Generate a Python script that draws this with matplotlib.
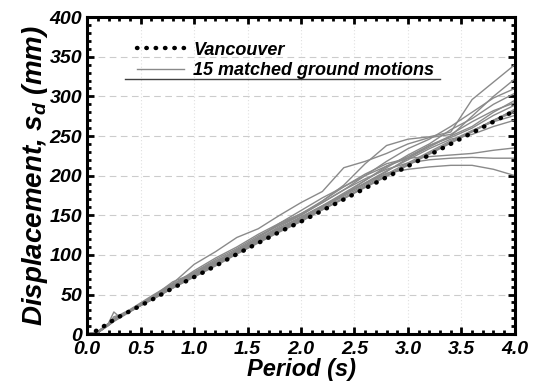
import matplotlib
matplotlib.use("Agg")
import matplotlib.pyplot as plt
from matplotlib.ticker import MultipleLocator

# periods (s)
period = [0, 0.1, 0.2, 0.25, 0.3, 0.4, 0.6, 0.8, 1.0, 1.2, 1.4, 1.6, 1.8, 2.0,
          2.2, 2.4, 2.6, 2.8, 3.0, 3.2, 3.4, 3.6, 3.8, 4.0]

# target spectrum, Sd (mm)
vancouver = [0, 5, 14, 18, 22, 29, 43, 58, 72, 86, 101, 115, 129, 142, 156, 170,
             184, 198, 212, 226, 240, 254, 268, 282]

# 15 matched ground motions, Sd (mm)
gm01 = [0, 3, 13, 22, 24, 31, 48, 64, 88, 104, 122, 133, 150, 166, 180, 210, 218, 228, 240, 248, 252, 268, 282, 292]
gm02 = [0, 2, 12, 20, 23, 30, 46, 62, 78, 92, 106, 120, 136, 150, 168, 188, 215, 238, 246, 249, 255, 296, 318, 340]
gm03 = [0, 3, 14, 28, 22, 30, 45, 60, 76, 92, 104, 118, 132, 146, 160, 176, 190, 205, 222, 238, 250, 275, 300, 322]
gm04 = [0, 2, 11, 17, 21, 29, 44, 61, 75, 90, 104, 120, 134, 148, 162, 178, 194, 210, 226, 240, 258, 272, 290, 304]
gm05 = [0, 3, 13, 19, 23, 30, 46, 66, 77, 90, 106, 122, 140, 156, 172, 186, 200, 212, 222, 236, 250, 262, 280, 295]
gm06 = [0, 2, 12, 18, 22, 29, 44, 60, 74, 88, 103, 118, 132, 145, 160, 176, 194, 212, 224, 238, 248, 260, 276, 289]
gm07 = [0, 3, 13, 19, 22, 29, 43, 58, 73, 87, 102, 116, 130, 144, 158, 172, 186, 200, 214, 228, 242, 256, 270, 280]
gm08 = [0, 2, 12, 18, 22, 30, 45, 60, 74, 88, 103, 118, 131, 146, 160, 174, 188, 202, 216, 230, 244, 257, 268, 276]
gm09 = [0, 2, 12, 17, 21, 29, 43, 58, 72, 86, 101, 115, 129, 142, 157, 171, 185, 199, 213, 227, 241, 255, 269, 284]
gm10 = [0, 3, 13, 18, 22, 29, 44, 59, 73, 87, 102, 116, 130, 143, 157, 171, 186, 200, 214, 228, 242, 256, 270, 283]
gm11 = [0, 2, 12, 17, 21, 29, 45, 62, 80, 96, 110, 126, 140, 152, 168, 186, 202, 215, 222, 224, 226, 228, 232, 235]
gm12 = [0, 3, 13, 18, 22, 30, 46, 63, 78, 94, 108, 124, 138, 150, 166, 182, 196, 208, 216, 220, 222, 223, 222, 222]
gm13 = [0, 2, 11, 16, 20, 28, 44, 60, 76, 91, 106, 120, 134, 147, 162, 176, 190, 203, 208, 211, 213, 213, 208, 200]
gm14 = [0, 3, 13, 19, 23, 30, 46, 62, 76, 90, 106, 122, 138, 152, 166, 182, 200, 218, 234, 246, 262, 280, 298, 310]
gm15 = [0, 2, 12, 18, 22, 29, 44, 60, 74, 89, 104, 119, 133, 147, 161, 176, 191, 206, 220, 234, 246, 252, 262, 270]
motions = [gm01, gm02, gm03, gm04, gm05, gm06, gm07, gm08, gm09, gm10,
           gm11, gm12, gm13, gm14, gm15]

plt.rcParams["font.family"] = "Liberation Sans"
plt.rcParams["font.weight"] = "bold"
plt.rcParams["font.style"] = "italic"
plt.rcParams["axes.labelweight"] = "bold"

fig = plt.figure(figsize=(5.38, 3.89), dpi=100)
ax = fig.add_axes([0.162, 0.141, 0.795, 0.815])

for i, gm in enumerate(motions):
    ax.plot(period, gm, color="#8a8a8a", lw=1.0,
            label="15 matched ground motions" if i == 0 else None)
ax.plot(period, vancouver, color="black", lw=3.2, linestyle=(0, (0.1, 2.0)),
        dash_capstyle="round", label="Vancouver")

ax.set_xlim(0, 4.0)
ax.set_ylim(0, 400)
ax.xaxis.set_major_locator(MultipleLocator(0.5))
ax.xaxis.set_minor_locator(MultipleLocator(0.1))
ax.yaxis.set_major_locator(MultipleLocator(50))
ax.yaxis.set_minor_locator(MultipleLocator(10))
ax.set_xticklabels([f"{v:.1f}" for v in ax.get_xticks()])

ax.grid(axis="y", which="major", color="#cccccc", linestyle=(0, (6, 4)), lw=0.8)
ax.grid(axis="x", which="major", color="#e0e0e0", linestyle=(0, (1, 2)), lw=0.8)

ax.tick_params(which="both", direction="in", top=True, right=True, width=2,
               labelsize=14)
ax.tick_params(which="major", length=5)
ax.tick_params(which="minor", length=3)
ax.tick_params(axis="x", pad=5)
for s in ax.spines.values():
    s.set_linewidth(2.2)

ax.set_xlabel("Period (s)", fontsize=17, labelpad=0)
ax.set_ylabel("Displacement, s$_\\mathregular{d}$ (mm)", fontsize=20, labelpad=0)

handles, labels = ax.get_legend_handles_labels()
ax.legend(handles[::-1], labels[::-1], loc="upper left", bbox_to_anchor=(0.1, 0.945),
          frameon=False, fontsize=13, handlelength=2.6, handletextpad=0.5,
          labelspacing=0.2, borderaxespad=0)
ax.plot([0.089, 0.825], [0.804, 0.804], color="#404040", lw=1.0,
        transform=ax.transAxes)

plt.savefig("out.png", dpi=100)
